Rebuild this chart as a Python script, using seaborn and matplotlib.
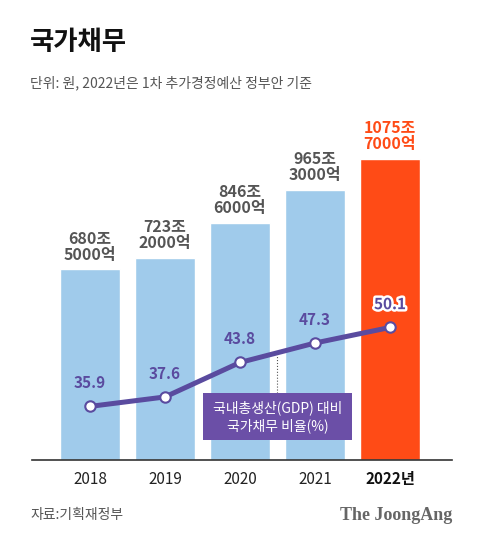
import numpy as np
import seaborn as sns
import matplotlib.pyplot as plt
import matplotlib.patheffects as pe
from matplotlib.patches import Rectangle

# 데이터 (단위: 조원, %)
years = ['2018', '2019', '2020', '2021', '2022년']
debt = [680.5, 723.2, 846.6, 965.3, 1075.7]
debt_labels = ['680조\n5000억', '723조\n2000억', '846조\n6000억', '965조\n3000억', '1075조\n7000억']
ratio = [35.9, 37.6, 43.8, 47.3, 50.1]

BLUE = '#A0CBEB'
ORANGE = '#FF4B16'
PURPLE = '#5A4B9F'
BOX = '#6B4FA7'
GRAY = '#555555'

sns.set_theme(style='white')
plt.rcParams['font.family'] = ['Noto Sans CJK KR', 'DejaVu Sans']

W, H = 480, 543
fig = plt.figure(figsize=(W / 100, H / 100), dpi=100)

def fx(px):
    return px / W

def fy(py):
    return 1 - py / H

# 축 영역: x 32~452px, y 110~460px
ax = fig.add_axes([fx(32), fy(460), fx(420), (460 - 110) / H])
bar_colors = [BLUE] * 4 + [ORANGE]
sns.barplot(x=years, y=debt, hue=years, palette=bar_colors, legend=False,
            width=0.8, saturation=1, ax=ax)
ax.set_xlim(-58 / 75, -58 / 75 + 420 / 75)
ax.set_ylim(0, 350 / 0.28)

for i, (v, lab) in enumerate(zip(debt, debt_labels)):
    ax.annotate(lab, (i, v), xytext=(0, 5), textcoords='offset points',
                ha='center', va='bottom', fontsize=11.5, fontweight='bold',
                color=ORANGE if i == 4 else GRAY, linespacing=1.0)

for s in ['top', 'left', 'right']:
    ax.spines[s].set_visible(False)
ax.spines['bottom'].set_color('#333333')
ax.spines['bottom'].set_linewidth(1.2)
ax.set_yticks([])
ax.set_xlabel('')
ax.set_ylabel('')
ax.tick_params(axis='x', length=0, pad=8)
for i, t in enumerate(ax.get_xticklabels()):
    t.set_fontsize(11)
    t.set_color('#222222')
    if i == 4:
        t.set_fontweight('bold')
        t.set_color('#111111')

# 국가채무 비율 선
ax2 = ax.twinx()
sns.lineplot(x=np.arange(len(ratio)), y=ratio, ax=ax2, color=PURPLE, linewidth=3.6,
             marker='o', markersize=7.5, markerfacecolor='white',
             markeredgecolor=PURPLE, markeredgewidth=1.5)
ax2.set_ylim((606 - 460) / 5.56, (606 - 110) / 5.56)
ax2.set_yticks([])
for s in ['top', 'left', 'right', 'bottom']:
    ax2.spines[s].set_visible(False)
for i, v in enumerate(ratio):
    t = ax2.annotate(f'{v}', (i, v), xytext=(0, 11), textcoords='offset points',
                     ha='center', va='bottom', fontsize=11, fontweight='bold',
                     color=PURPLE)
    if i == 4:
        t.set_path_effects([pe.withStroke(linewidth=3.5, foreground='white')])

# 범례 박스와 점선
ax2.plot([2.49, 2.49], [(606 - 393) / 5.56, (606 - 356) / 5.56],
         color='#555555', linestyle=':', linewidth=0.8)
fig.patches.append(Rectangle((fx(203), fy(440)), fx(149), (440 - 393) / H,
                             transform=fig.transFigure, facecolor=BOX,
                             edgecolor='none', zorder=5))
fig.text(fx(277.5), fy(416.5), '국내총생산(GDP) 대비\n국가채무 비율(%)',
         ha='center', va='center', color='white', fontsize=10,
         linespacing=1.3, zorder=6)

# 제목, 부제, 출처
fig.text(fx(30), fy(43), '국가채무', ha='left', va='center', fontsize=19,
         fontweight='bold', color='#111111')
fig.text(fx(30), fy(83), '단위: 원, 2022년은 1차 추가경정예산 정부안 기준',
         ha='left', va='center', fontsize=10, color=GRAY)
fig.text(fx(30), fy(515), '자료:기획재정부', ha='left', va='center',
         fontsize=10, color=GRAY)
fig.text(fx(452), fy(515), 'The JoongAng', ha='right', va='center',
         fontsize=13, fontweight='bold', color='#666666',
         family=['Liberation Serif', 'DejaVu Serif'])

fig.savefig('out.png', dpi=100, facecolor='white')
